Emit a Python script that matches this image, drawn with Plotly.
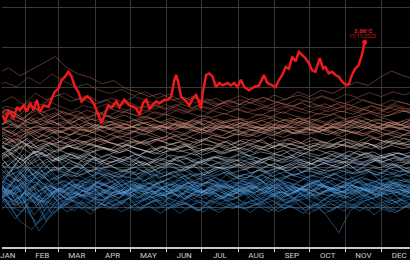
import plotly.graph_objects as go
from plotly.colors import sample_colorscale

# ---------------- data ----------------
month_labels = ["JAN", "FEB", "MAR", "APR", "MAY", "JUN", "JUL", "AUG", "SEP", "OCT", "NOV", "DEC"]
month_mid_days = [15.5, 45, 74.5, 105, 135.5, 166, 196.5, 227.5, 258, 288.5, 319, 349.5]
month_start_days = [31, 59, 90, 120, 151, 181, 212, 243, 273, 304, 334]

years = list(range(1940, 2023))
sample_days = [0, 10, 20, 30, 40, 50, 60, 70, 80, 90, 100, 110, 120, 130, 140, 150, 160, 170,
               180, 190, 200, 210, 220, 230, 240, 250, 260, 270, 280, 290, 300, 310, 320, 330,
               340, 350, 360]
# day on which each year's readings start (readings every 10 days from there)
sample_offsets = [0,5,2,8,3,7,1,6,4,9, 2,7,0,5,8,3,6,1,9,4, 7,2,5,0,8,3,9,6,1,4,
                  5,8,2,7,0,3,6,9,1,4, 8,2,5,0,7,3,9,6,1,4, 2,7,0,5,8,3,6,1,9,4,
                  7,2,5,0,8,3,9,6,1,4, 5,8,2,7,0,3,6,9,1,4, 3,6,0]

background_series = [
    [0.30,0.18,0.35,0.10,0.05,0.22,0.02,0.15,0.28,0.20, 0.12,0.25,0.31,0.19,0.24,0.14,0.29,0.21,0.17,0.26, 0.33,0.22,0.15,0.27,0.20,0.30,0.18,0.13,0.24,0.29, 0.21,0.34,0.25,0.16,0.28,0.31,0.20],
    [0.22,0.38,0.45,0.30,0.52,0.36,0.25,0.40,0.33,0.28, 0.37,0.24,0.31,0.42,0.35,0.27,0.39,0.30,0.44,0.34, 0.26,0.32,0.41,0.29,0.36,0.23,0.33,0.40,0.28,0.35, 0.42,0.31,0.25,0.38,0.44,0.33,0.27],
    [0.35,0.24,0.10,0.18,0.02,0.15,0.28,0.20,0.12,0.25, 0.30,0.16,0.22,0.11,0.26,0.19,0.14,0.27,0.21,0.09, 0.18,0.25,0.31,0.17,0.13,0.24,0.20,0.28,0.15,0.22, 0.12,0.26,0.19,0.30,0.23,0.14,0.21],
    [0.08,0.20,0.30,0.05,-0.15,-0.05,0.14,0.22,0.10,0.02, 0.15,0.19,0.08,0.13,0.04,0.17,0.11,0.21,0.06,0.14, 0.09,0.18,0.03,0.12,0.20,0.10,0.15,0.01,0.13,0.19, 0.07,0.16,0.22,0.11,0.05,0.18,0.13],
    [0.28,0.20,0.40,0.48,0.33,0.42,0.25,0.35,0.30,0.44, 0.38,0.27,0.33,0.41,0.29,0.36,0.43,0.31,0.26,0.38, 0.45,0.34,0.28,0.40,0.32,0.37,0.47,0.35,0.29,0.42, 0.36,0.30,0.44,0.39,0.33,0.46,0.38],
    [0.34,0.15,0.20,0.38,0.25,0.12,0.30,0.22,0.17,0.28, 0.35,0.19,0.23,0.31,0.16,0.26,0.33,0.21,0.14,0.27, 0.24,0.32,0.18,0.29,0.22,0.13,0.26,0.34,0.20,0.25, 0.30,0.17,0.23,0.36,0.27,0.19,0.28],
    [0.00,0.12,0.22,-0.05,-0.20,0.08,-0.02,0.14,0.04,0.10, -0.03,0.07,0.13,0.01,0.09,-0.04,0.06,0.15,0.03,-0.01, 0.08,0.12,0.00,0.05,0.14,-0.02,0.07,0.11,0.02,-0.06, 0.04,0.10,0.16,0.06,-0.03,0.09,0.03],
    [0.20,0.05,0.28,0.15,0.00,0.22,0.10,0.04,0.18,0.13, 0.07,0.16,0.21,0.09,0.14,0.19,0.05,0.12,0.23,0.10, 0.15,0.06,0.18,0.24,0.11,0.08,0.17,0.13,0.03,0.16, 0.21,0.09,0.14,0.19,0.06,0.12,0.17],
    [0.05,0.18,0.25,-0.08,0.08,0.20,0.03,0.15,0.09,0.02, 0.14,0.19,0.06,0.11,0.00,0.13,0.17,0.08,0.04,0.15, 0.10,0.21,0.07,0.12,0.16,0.05,0.09,0.18,0.11,0.02, 0.13,0.07,0.19,0.10,0.04,0.14,0.08],
    [0.15,-0.02,0.08,-0.22,-0.10,0.12,0.00,0.06,-0.04,0.09, 0.03,0.11,-0.02,0.07,0.13,0.01,0.05,-0.05,0.08,0.12, 0.02,-0.03,0.06,0.10,0.00,0.09,-0.04,0.04,0.11,0.03, -0.01,0.07,0.13,0.02,0.08,-0.03,0.05],
    [-0.08,0.06,-0.15,0.02,-0.30,-0.12,0.04,-0.05,0.08,-0.02, 0.05,-0.06,0.01,0.09,-0.03,0.04,-0.08,0.02,0.07,-0.04, 0.00,0.06,-0.07,0.03,0.08,-0.02,0.05,-0.09,0.01,0.04, -0.05,0.03,0.09,-0.01,-0.06,0.05,0.02],
    [0.06,0.20,0.12,0.26,0.02,0.18,0.10,0.22,0.15,0.08, 0.19,0.13,0.24,0.11,0.17,0.07,0.20,0.14,0.25,0.12, 0.16,0.22,0.09,0.18,0.13,0.26,0.15,0.10,0.21,0.17, 0.23,0.12,0.19,0.27,0.14,0.20,0.16],
    [0.28,0.12,0.20,0.32,0.10,0.05,0.24,0.15,0.21,0.11, 0.18,0.26,0.13,0.20,0.16,0.09,0.22,0.27,0.14,0.19, 0.12,0.23,0.17,0.08,0.21,0.15,0.25,0.11,0.18,0.22, 0.13,0.19,0.26,0.16,0.10,0.21,0.15],
    [0.18,0.35,0.22,0.42,0.30,0.16,0.28,0.34,0.21,0.27, 0.32,0.19,0.25,0.36,0.23,0.29,0.17,0.31,0.26,0.20, 0.33,0.24,0.28,0.18,0.35,0.27,0.22,0.30,0.25,0.19, 0.29,0.36,0.23,0.27,0.32,0.21,0.28],
    [0.14,0.00,-0.06,0.18,-0.18,0.04,0.12,-0.03,0.08,0.02, 0.10,-0.02,0.06,0.13,0.01,0.07,-0.04,0.09,0.04,0.11, -0.01,0.05,0.10,0.00,0.07,0.12,0.03,-0.05,0.06,0.09, 0.02,0.08,-0.02,0.05,0.11,0.04,0.00],
    [-0.05,0.10,-0.12,0.04,0.15,-0.08,0.02,0.09,-0.03,0.06, 0.00,0.08,-0.04,0.03,0.10,-0.02,0.05,0.01,-0.06,0.07, 0.03,-0.01,0.08,0.02,-0.05,0.06,0.10,0.00,0.04,-0.03, 0.07,0.01,-0.04,0.05,0.09,0.00,0.03],
    [-0.10,0.05,-0.18,-0.28,-0.12,0.06,-0.06,0.02,-0.09,0.04, -0.03,0.07,-0.05,0.01,-0.08,0.03,0.06,-0.04,0.00,-0.07, 0.05,-0.02,0.02,0.07,-0.06,0.01,-0.03,0.04,-0.08,0.00, 0.03,-0.05,0.06,-0.01,-0.07,0.02,-0.03],
    [0.02,0.15,0.08,0.20,0.12,0.24,0.10,0.18,0.14,0.22, 0.16,0.11,0.23,0.19,0.27,0.15,0.21,0.26,0.18,0.24, 0.29,0.20,0.25,0.31,0.22,0.27,0.19,0.30,0.26,0.33, 0.24,0.29,0.35,0.27,0.32,0.25,0.30],
    [0.42,0.30,0.50,0.38,0.24,0.36,0.20,0.33,0.28,0.38, 0.25,0.32,0.36,0.27,0.22,0.34,0.30,0.26,0.35,0.24, 0.31,0.28,0.37,0.23,0.33,0.29,0.25,0.34,0.21,0.30, 0.36,0.27,0.32,0.24,0.29,0.35,0.26],
    [0.14,0.30,0.20,0.36,0.16,0.27,0.12,0.24,0.29,0.18, 0.23,0.15,0.28,0.21,0.26,0.17,0.30,0.22,0.19,0.27, 0.24,0.16,0.25,0.20,0.29,0.18,0.23,0.14,0.26,0.21, 0.28,0.19,0.24,0.17,0.27,0.22,0.20],
    [0.25,0.10,0.04,0.26,-0.05,0.12,0.22,0.15,0.08,0.20, 0.17,0.24,0.11,0.19,0.14,0.23,0.09,0.18,0.21,0.13, 0.16,0.25,0.12,0.20,0.08,0.17,0.22,0.14,0.19,0.11, 0.23,0.16,0.10,0.21,0.18,0.13,0.20],
    [0.18,0.32,0.24,0.40,0.28,0.20,0.33,0.26,0.19,0.30, 0.24,0.35,0.22,0.28,0.17,0.31,0.25,0.21,0.29,0.33, 0.23,0.27,0.19,0.32,0.26,0.22,0.30,0.18,0.28,0.24, 0.31,0.20,0.27,0.34,0.23,0.29,0.25],
    [0.30,0.14,0.34,0.20,0.10,0.26,0.17,0.29,0.21,0.15, 0.24,0.19,0.27,0.12,0.23,0.28,0.16,0.22,0.18,0.25, 0.13,0.21,0.26,0.17,0.24,0.14,0.20,0.27,0.19,0.23, 0.16,0.25,0.18,0.22,0.28,0.17,0.21],
    [0.10,0.28,0.16,0.35,0.30,0.14,0.22,0.31,0.19,0.26, 0.20,0.29,0.17,0.25,0.32,0.21,0.27,0.23,0.34,0.26, 0.30,0.22,0.28,0.35,0.24,0.31,0.19,0.27,0.33,0.22, 0.26,0.18,0.29,0.24,0.20,0.27,0.23],
    [0.18,0.02,0.12,-0.10,0.08,-0.02,0.10,0.04,-0.04,0.07, 0.01,0.11,-0.03,0.06,0.09,0.00,0.05,-0.05,0.08,0.02, -0.02,0.06,0.03,-0.06,0.04,0.00,-0.08,0.05,-0.12,-0.32, -0.04,0.05,-0.10,0.02,-0.06,0.03,-0.02],
    [-0.05,0.10,0.02,0.18,0.06,0.14,0.00,0.11,0.17,0.08, 0.13,0.04,0.16,0.09,0.20,0.11,0.06,0.15,0.10,0.18, 0.07,0.13,0.19,0.09,0.14,0.05,0.12,0.17,0.08,0.15, 0.11,0.20,0.09,0.14,0.18,0.07,0.12],
    [0.14,0.28,0.18,0.06,0.30,0.20,0.25,0.12,0.27,0.21, 0.17,0.29,0.23,0.15,0.26,0.19,0.31,0.22,0.16,0.28, 0.24,0.18,0.30,0.21,0.13,0.26,0.20,0.29,0.23,0.17, 0.27,0.22,0.15,0.28,0.19,0.25,0.21],
    [0.30,0.18,0.10,0.34,0.40,0.22,0.15,0.28,0.32,0.20, 0.26,0.17,0.30,0.23,0.33,0.19,0.27,0.22,0.31,0.25, 0.18,0.29,0.24,0.34,0.21,0.28,0.16,0.30,0.26,0.22, 0.32,0.20,0.27,0.23,0.31,0.19,0.26],
    [0.08,0.26,0.02,0.20,0.30,0.14,0.24,0.11,0.22,0.28, 0.16,0.21,0.13,0.27,0.19,0.24,0.12,0.23,0.18,0.29, 0.15,0.22,0.26,0.17,0.25,0.13,0.20,0.28,0.16,0.23, 0.19,0.27,0.14,0.24,0.21,0.17,0.25],
    [0.24,0.38,0.44,0.30,0.46,0.34,0.40,0.28,0.37,0.42, 0.31,0.39,0.35,0.44,0.29,0.36,0.41,0.33,0.38,0.30, 0.43,0.35,0.39,0.32,0.45,0.37,0.31,0.40,0.36,0.42, 0.34,0.39,0.44,0.33,0.38,0.41,0.35],
    [0.40,0.25,0.36,0.20,0.38,0.28,0.33,0.22,0.35,0.29, 0.24,0.34,0.30,0.21,0.32,0.27,0.36,0.25,0.31,0.28, 0.23,0.33,0.29,0.37,0.26,0.31,0.22,0.30,0.34,0.27, 0.24,0.32,0.28,0.21,0.30,0.35,0.26],
    [0.10,0.22,0.05,0.16,0.26,0.08,0.19,0.14,0.24,0.11, 0.20,0.16,0.25,0.12,0.18,0.22,0.13,0.21,0.17,0.10, 0.19,0.24,0.15,0.20,0.11,0.18,0.23,0.14,0.21,0.16, 0.12,0.20,0.24,0.15,0.19,0.13,0.18],
    [0.12,0.24,0.16,0.30,0.20,0.27,0.18,0.29,0.23,0.31, 0.25,0.33,0.22,0.30,0.28,0.35,0.26,0.32,0.29,0.37, 0.31,0.36,0.33,0.40,0.34,0.38,0.42,0.36,0.44,0.39, 0.45,0.41,0.47,0.43,0.40,0.46,0.42],
    [0.52,0.58,0.45,0.62,0.40,0.50,0.44,0.55,0.39,0.48, 0.43,0.36,0.47,0.41,0.38,0.45,0.34,0.42,0.39,0.46, 0.35,0.41,0.37,0.44,0.32,0.40,0.36,0.30,0.38,0.34, 0.29,0.37,0.33,0.28,0.35,0.31,0.27],
    [0.12,0.25,0.06,0.18,0.02,0.16,0.24,0.10,0.21,0.15, 0.19,0.11,0.23,0.16,0.20,0.13,0.25,0.18,0.14,0.22, 0.17,0.12,0.21,0.26,0.15,0.19,0.11,0.23,0.18,0.14, 0.20,0.16,0.24,0.13,0.19,0.22,0.17],
    [0.30,0.18,0.36,0.14,0.32,0.24,0.19,0.28,0.21,0.33, 0.25,0.17,0.29,0.22,0.30,0.18,0.26,0.31,0.20,0.27, 0.23,0.16,0.28,0.21,0.33,0.19,0.25,0.17,0.29,0.22, 0.18,0.26,0.20,0.15,0.24,0.21,0.17],
    [0.10,0.22,0.00,0.14,0.06,0.20,0.09,0.17,0.12,0.08, 0.15,0.19,0.11,0.21,0.14,0.18,0.10,0.20,0.16,0.23, 0.15,0.21,0.18,0.25,0.19,0.16,0.23,0.20,0.26,0.22, 0.28,0.24,0.20,0.27,0.30,0.25,0.29],
    [0.34,0.46,0.52,0.38,0.50,0.36,0.44,0.40,0.48,0.42, 0.37,0.45,0.41,0.49,0.39,0.43,0.47,0.38,0.44,0.50, 0.41,0.36,0.46,0.42,0.48,0.39,0.45,0.43,0.37,0.46, 0.42,0.49,0.40,0.45,0.38,0.44,0.41],
    [0.46,0.30,0.52,0.36,0.44,0.33,0.41,0.38,0.47,0.35, 0.42,0.37,0.45,0.32,0.40,0.44,0.36,0.41,0.34,0.39, 0.43,0.37,0.42,0.46,0.38,0.44,0.40,0.47,0.41,0.45, 0.49,0.42,0.46,0.40,0.48,0.44,0.47],
    [0.36,0.45,0.32,0.50,0.40,0.47,0.42,0.52,0.44,0.49, 0.41,0.46,0.50,0.43,0.48,0.53,0.45,0.50,0.47,0.55, 0.49,0.52,0.57,0.50,0.54,0.48,0.56,0.53,0.59,0.55, 0.61,0.56,0.58,0.63,0.57,0.60,0.55],
    [0.60,0.66,0.52,0.70,0.50,0.62,0.55,0.48,0.60,0.53, 0.58,0.51,0.63,0.56,0.49,0.59,0.54,0.61,0.52,0.57, 0.50,0.58,0.62,0.53,0.49,0.56,0.60,0.51,0.55,0.58, 0.48,0.54,0.59,0.50,0.53,0.47,0.52],
    [0.70,0.76,0.58,0.80,0.62,0.66,0.55,0.63,0.59,0.54, 0.61,0.57,0.64,0.52,0.60,0.56,0.63,0.58,0.53,0.62, 0.57,0.65,0.60,0.55,0.63,0.59,0.66,0.61,0.57,0.64, 0.60,0.67,0.62,0.58,0.65,0.61,0.63],
    [0.54,0.40,0.32,0.48,0.36,0.50,0.42,0.38,0.46,0.41, 0.37,0.45,0.40,0.48,0.36,0.43,0.47,0.39,0.44,0.50, 0.42,0.46,0.51,0.44,0.49,0.45,0.53,0.48,0.55,0.50, 0.57,0.53,0.60,0.56,0.62,0.58,0.64],
    [0.72,0.78,0.66,0.80,0.64,0.72,0.60,0.68,0.63,0.58, 0.66,0.61,0.56,0.64,0.59,0.67,0.57,0.62,0.55,0.63, 0.60,0.58,0.65,0.54,0.61,0.57,0.63,0.56,0.52,0.59, 0.55,0.61,0.53,0.58,0.51,0.56,0.54],
    [0.58,0.42,0.62,0.40,0.55,0.60,0.46,0.52,0.44,0.56, 0.49,0.45,0.57,0.43,0.51,0.55,0.47,0.53,0.42,0.50, 0.56,0.46,0.52,0.44,0.49,0.54,0.43,0.50,0.45,0.48, 0.53,0.42,0.49,0.46,0.51,0.44,0.48],
    [0.42,0.56,0.36,0.52,0.60,0.45,0.50,0.41,0.55,0.47, 0.52,0.44,0.49,0.56,0.43,0.51,0.46,0.54,0.40,0.50, 0.47,0.53,0.42,0.49,0.55,0.45,0.51,0.48,0.44,0.52, 0.57,0.46,0.53,0.49,0.55,0.47,0.51],
    [0.62,0.48,0.66,0.50,0.60,0.46,0.57,0.52,0.61,0.49, 0.55,0.60,0.51,0.57,0.53,0.62,0.50,0.56,0.59,0.54, 0.60,0.52,0.58,0.63,0.55,0.59,0.53,0.61,0.57,0.64, 0.58,0.66,0.60,0.63,0.68,0.61,0.65],
    [0.58,0.70,0.55,0.66,0.72,0.60,0.67,0.63,0.71,0.62, 0.68,0.73,0.64,0.70,0.66,0.74,0.69,0.65,0.72,0.76, 0.70,0.74,0.68,0.77,0.72,0.79,0.74,0.70,0.78,0.75, 0.81,0.77,0.73,0.80,0.84,0.78,0.82],
    [0.82,0.88,0.76,0.84,0.74,0.80,0.72,0.78,0.70,0.76, 0.73,0.68,0.75,0.71,0.66,0.74,0.69,0.72,0.65,0.70, 0.67,0.73,0.64,0.69,0.66,0.71,0.62,0.68,0.64,0.70, 0.66,0.61,0.68,0.63,0.67,0.60,0.65],
    [0.56,0.50,0.62,0.54,0.66,0.58,0.64,0.60,0.67,0.56, 0.63,0.59,0.66,0.61,0.57,0.65,0.62,0.68,0.58,0.64, 0.61,0.67,0.63,0.59,0.66,0.62,0.69,0.64,0.60,0.67, 0.63,0.70,0.65,0.61,0.68,0.66,0.71],
    [0.70,0.80,0.74,0.86,0.72,0.78,0.82,0.73,0.79,0.75, 0.71,0.80,0.76,0.83,0.72,0.77,0.81,0.74,0.79,0.76, 0.82,0.73,0.78,0.84,0.75,0.80,0.77,0.72,0.81,0.78, 0.83,0.76,0.80,0.74,0.82,0.79,0.77],
    [0.78,0.70,0.82,0.74,0.80,0.68,0.76,0.72,0.79,0.74, 0.70,0.77,0.73,0.68,0.75,0.71,0.78,0.69,0.74,0.66, 0.72,0.67,0.74,0.70,0.64,0.71,0.66,0.73,0.68,0.63, 0.70,0.65,0.69,0.62,0.67,0.64,0.68],
    [0.72,0.66,0.74,0.60,0.70,0.64,0.58,0.66,0.56,0.62, 0.54,0.59,0.52,0.57,0.50,0.55,0.53,0.49,0.56,0.51, 0.48,0.54,0.50,0.57,0.52,0.47,0.55,0.51,0.58,0.53, 0.49,0.56,0.52,0.59,0.54,0.51,0.57],
    [0.55,0.64,0.50,0.62,0.68,0.57,0.61,0.54,0.65,0.59, 0.56,0.63,0.58,0.52,0.61,0.57,0.64,0.55,0.60,0.62, 0.56,0.59,0.53,0.61,0.57,0.63,0.58,0.54,0.62,0.59, 0.55,0.60,0.64,0.57,0.61,0.56,0.60],
    [0.62,0.68,0.58,0.70,0.64,0.72,0.66,0.61,0.69,0.73, 0.67,0.71,0.65,0.74,0.68,0.72,0.76,0.70,0.74,0.69, 0.75,0.71,0.77,0.73,0.78,0.72,0.76,0.80,0.74,0.79, 0.75,0.81,0.77,0.83,0.78,0.82,0.79],
    [0.78,0.86,0.80,0.92,0.82,0.88,0.79,0.84,0.81,0.87, 0.80,0.76,0.83,0.79,0.85,0.78,0.82,0.77,0.84,0.80, 0.76,0.83,0.79,0.74,0.81,0.77,0.82,0.75,0.79,0.73, 0.78,0.74,0.80,0.72,0.77,0.73,0.76],
    [0.70,0.64,0.76,0.66,0.74,0.69,0.77,0.72,0.68,0.75, 0.71,0.78,0.73,0.69,0.76,0.72,0.79,0.74,0.70,0.77, 0.73,0.80,0.75,0.71,0.78,0.74,0.70,0.77,0.73,0.79, 0.75,0.72,0.78,0.74,0.80,0.76,0.73],
    [0.68,0.74,0.70,0.78,0.72,0.80,0.74,0.77,0.82,0.76, 0.81,0.78,0.85,0.80,0.84,0.88,0.83,0.87,0.82,0.90, 0.86,0.91,0.88,0.94,0.89,0.96,0.92,0.98,0.94,1.00, 0.96,1.03,0.98,1.05,1.01,0.97,1.04],
    [1.12,1.20,1.10,1.24,1.08,1.16,1.04,1.12,1.00,1.08, 1.03,0.98,1.06,1.01,0.96,1.04,0.99,1.05,0.95,1.02, 0.97,0.93,1.00,0.95,1.01,0.92,0.98,0.94,0.90,0.97, 0.93,0.89,0.96,0.91,0.87,0.94,0.90],
    [0.90,0.78,0.86,0.74,0.84,0.79,0.76,0.83,0.78,0.85, 0.80,0.75,0.82,0.77,0.84,0.79,0.74,0.81,0.86,0.78, 0.83,0.77,0.85,0.80,0.76,0.84,0.79,0.87,0.82,0.78, 0.85,0.81,0.88,0.83,0.79,0.86,0.82],
    [0.76,0.86,0.72,0.84,0.90,0.80,0.87,0.78,0.85,0.81, 0.88,0.83,0.79,0.86,0.82,0.89,0.84,0.80,0.87,0.83, 0.78,0.85,0.81,0.88,0.82,0.86,0.79,0.84,0.80,0.87, 0.83,0.78,0.86,0.82,0.88,0.84,0.80],
    [0.84,0.90,0.82,0.94,0.88,0.96,0.86,0.92,0.89,0.97, 0.91,0.87,0.95,0.90,0.98,0.93,0.88,0.96,0.92,0.99, 0.94,0.90,0.97,0.93,1.00,0.95,0.91,0.98,0.94,1.01, 0.96,0.92,0.99,0.95,1.02,0.97,0.94],
    [0.96,1.08,1.00,1.12,1.02,1.06,0.98,1.03,0.95,1.01, 0.97,1.04,0.99,0.94,1.02,0.97,1.05,1.00,0.95,1.03, 0.98,1.06,1.01,0.96,1.04,0.99,1.07,1.02,0.97,1.05, 1.00,1.08,1.03,0.98,1.06,1.01,0.99],
    [1.06,0.96,1.04,0.94,1.02,0.97,0.93,1.00,0.95,1.03, 0.98,0.94,1.01,0.96,1.04,0.99,1.05,1.00,0.96,1.03, 0.98,1.06,1.01,0.97,1.04,1.00,1.07,1.02,0.98,1.05, 1.01,1.08,1.03,0.99,1.06,1.02,1.09],
    [1.00,0.92,1.04,0.95,0.88,0.96,0.90,0.98,0.93,0.87, 0.94,0.90,0.97,0.92,0.86,0.95,0.91,0.98,0.93,0.89, 0.96,0.92,0.88,0.95,0.91,0.97,0.93,0.99,0.95,0.91, 0.98,1.02,0.96,1.00,1.04,0.98,1.01],
    [0.98,1.06,1.00,1.10,1.03,1.08,1.01,1.12,1.05,1.00, 1.07,1.02,1.09,1.04,0.99,1.06,1.01,1.08,1.03,1.10, 1.05,1.00,1.07,1.02,1.09,1.04,1.11,1.06,1.01,1.08, 1.03,1.10,1.05,1.00,1.07,1.02,1.06],
    [0.94,0.88,0.98,0.92,1.00,0.95,0.90,0.97,0.93,1.00, 0.96,0.92,0.99,0.94,1.01,0.97,1.03,0.98,0.94,1.02, 0.98,1.04,1.00,0.96,1.03,0.99,1.06,1.02,0.98,1.05, 1.08,1.03,1.10,1.06,1.02,1.09,1.05],
    [1.14,1.22,1.10,1.04,1.08,1.02,1.06,0.99,1.05,1.00, 1.04,0.98,1.03,0.97,1.02,0.96,1.01,0.95,1.00,0.97, 0.94,0.99,0.95,1.00,0.93,0.98,0.94,0.92,0.97,0.93, 0.96,0.91,0.95,0.90,0.94,0.89,0.93],
    [0.80,0.76,0.86,0.78,0.84,0.80,0.88,0.83,0.90,0.85, 0.82,0.89,0.86,0.92,0.87,0.84,0.91,0.88,0.94,0.89, 0.86,0.93,0.90,0.96,0.91,0.87,0.94,0.90,0.97,0.92, 0.88,0.95,0.91,0.86,0.93,0.89,0.94],
    [0.90,0.96,0.88,0.94,0.98,0.92,0.97,1.00,0.94,0.99, 1.03,0.97,1.02,1.06,1.00,1.05,0.99,1.04,1.08,1.02, 1.07,1.10,1.04,1.09,1.13,1.07,1.11,1.06,1.12,1.16, 1.10,1.14,1.18,1.12,1.16,1.20,1.14],
    [1.16,1.22,1.14,1.28,1.18,1.24,1.15,1.20,1.12,1.18, 1.10,1.15,1.08,1.13,1.06,1.11,1.04,1.09,1.02,1.07, 1.00,1.05,0.99,1.03,0.97,1.02,0.96,1.01,0.95,1.00, 1.04,0.98,1.03,0.97,0.94,1.01,0.96],
    [0.90,0.96,0.86,0.94,1.00,0.92,0.97,0.91,0.99,0.95, 1.01,0.96,0.93,1.00,0.97,1.03,0.98,0.94,1.02,0.99, 1.04,0.99,0.95,1.02,0.98,1.05,1.00,0.96,1.03,0.99, 1.06,1.01,0.97,1.04,1.00,0.95,1.02],
    [0.92,0.98,0.90,0.97,1.01,0.95,1.00,0.96,1.03,0.98, 1.02,1.06,1.00,1.05,1.08,1.02,1.07,1.03,1.09,1.04, 1.06,1.10,1.05,1.08,1.03,1.09,1.05,1.11,1.06,1.02, 1.08,1.04,1.10,1.05,1.01,1.07,1.03],
    [1.02,1.08,1.00,1.06,1.12,1.04,1.09,1.03,1.10,1.05, 1.08,1.02,1.07,1.11,1.05,1.09,1.03,1.08,1.12,1.06, 1.10,1.04,1.09,1.13,1.07,1.11,1.05,1.10,1.06,1.12, 1.08,1.13,1.07,1.11,1.05,1.10,1.08],
    [1.08,1.02,1.10,1.04,1.12,1.06,1.11,1.05,1.13,1.08, 1.14,1.09,1.06,1.13,1.10,1.16,1.11,1.07,1.14,1.12, 1.17,1.12,1.09,1.16,1.13,1.19,1.14,1.10,1.17,1.15, 1.20,1.16,1.22,1.17,1.14,1.21,1.18],
    [1.10,1.18,1.06,1.16,1.22,1.12,1.19,1.14,1.21,1.16, 1.23,1.18,1.25,1.20,1.27,1.22,1.29,1.24,1.31,1.26, 1.33,1.28,1.36,1.31,1.40,1.34,1.44,1.38,1.46,1.42, 1.50,1.56,1.52,1.62,1.70,1.64,1.60],
    [1.66,1.74,1.64,1.72,1.80,1.88,1.74,1.66,1.62,1.54, 1.58,1.48,1.44,1.38,1.42,1.34,1.37,1.30,1.35,1.28, 1.33,1.27,1.32,1.26,1.31,1.25,1.30,1.24,1.29,1.23, 1.28,1.22,1.27,1.21,1.26,1.20,1.24],
    [1.30,1.38,1.28,1.42,1.34,1.40,1.32,1.36,1.28,1.34, 1.26,1.31,1.24,1.29,1.22,1.28,1.21,1.27,1.23,1.30, 1.25,1.32,1.27,1.23,1.30,1.26,1.33,1.28,1.24,1.31, 1.27,1.34,1.29,1.25,1.32,1.28,1.26],
    [1.10,1.04,1.14,1.08,1.18,1.12,1.20,1.14,1.10,1.17, 1.13,1.21,1.16,1.12,1.19,1.15,1.22,1.17,1.13,1.20, 1.16,1.23,1.18,1.14,1.21,1.17,1.25,1.20,1.16,1.23, 1.19,1.26,1.21,1.17,1.24,1.20,1.18],
    [1.18,1.26,1.22,1.32,1.28,1.38,1.42,1.34,1.40,1.30, 1.36,1.31,1.38,1.33,1.28,1.35,1.30,1.37,1.32,1.28, 1.34,1.39,1.33,1.37,1.31,1.36,1.40,1.35,1.39,1.34, 1.41,1.37,1.43,1.38,1.44,1.40,1.46],
    [1.48,1.56,1.50,1.62,1.54,1.66,1.58,1.50,1.54,1.46, 1.42,1.47,1.39,1.44,1.36,1.41,1.33,1.38,1.31,1.36, 1.29,1.34,1.30,1.37,1.32,1.28,1.35,1.31,1.38,1.33, 1.29,1.36,1.31,1.27,1.34,1.30,1.26],
    [1.22,1.16,1.10,1.04,1.12,1.18,1.08,1.14,1.09,1.16, 1.12,1.19,1.14,1.20,1.15,1.22,1.17,1.23,1.18,1.24, 1.19,1.25,1.20,1.26,1.21,1.27,1.22,1.28,1.23,1.29, 1.24,1.20,1.26,1.22,1.28,1.23,1.25],
    [1.16,1.24,1.18,1.28,1.22,1.32,1.26,1.20,1.27,1.23, 1.29,1.24,1.20,1.26,1.22,1.28,1.23,1.19,1.25,1.21, 1.27,1.22,1.18,1.24,1.20,1.26,1.21,1.17,1.23,1.19, 1.25,1.20,1.16,1.22,1.18,1.24,1.21],
]

# 2023 (highlighted)
red_days = [11, 13.4, 16.3, 20.6, 23.4, 25.9, 29, 31.8, 34.7, 37.5, 40.3, 42.9, 46, 50.3, 53.1,
            55.6, 58.8, 61.6, 64.4, 67.2, 70, 72.9, 75.7, 78.5, 82.8, 85.6, 88.5, 91.3, 95.5,
            98.1, 101.2, 104, 108.2, 110.8, 115, 119.3, 123.5, 125.2, 128, 130.9, 133.7, 136.5,
            139.4, 142.2, 145, 149.3, 152.1, 154.9, 157.7, 159.2, 161.1, 163.4, 167.7, 170.5,
            173.4, 176.2, 179, 180.4, 181.8, 184.7, 187.5, 190.3, 193.1, 196, 198.8, 203.1,
            205.9, 208.7, 211.6, 214.4, 217.2, 221.4, 225.7, 229.9, 234.1, 237, 241.3, 244.1,
            246.9, 249.8, 252.6, 255.4, 258.2, 261.1, 263.9, 266.7, 269.5, 272.3, 275.2, 278,
            281.7, 284.6, 286.5, 289.3, 292.2, 295, 297.8, 300.7, 303.5, 306.3, 309.2, 312,
            314.8, 317.7, 320]
red_vals = [1.15, 1.07, 1.21, 1.11, 1.25, 1.21, 1.27, 1.19, 1.30, 1.21, 1.34, 1.19, 1.27, 1.25, 1.36,
            1.44, 1.48, 1.59, 1.63, 1.69, 1.63, 1.50, 1.44, 1.32, 1.38, 1.36, 1.30, 1.21, 1.05,
            1.15, 1.27, 1.24, 1.32, 1.25, 1.34, 1.27, 1.25, 1.23, 1.15, 1.30, 1.34, 1.23,
            1.27, 1.32, 1.30, 1.34, 1.34, 1.38, 1.59, 1.65, 1.55, 1.38, 1.32, 1.27,
            1.36, 1.40, 1.30, 1.23, 1.42, 1.65, 1.67, 1.63, 1.50, 1.55, 1.52, 1.55,
            1.52, 1.55, 1.50, 1.59, 1.50, 1.46, 1.50, 1.52, 1.65, 1.55, 1.52, 1.50,
            1.59, 1.65, 1.75, 1.73, 1.88, 1.82, 1.94, 1.90, 1.86, 1.80, 1.71, 1.69,
            1.86, 1.73, 1.75, 1.67, 1.69, 1.65, 1.63, 1.57, 1.53, 1.53, 1.65, 1.73,
            1.77, 1.90, 2.06]
red_date_label = "17/11/2023"

# ---------------- figure ----------------
line_scale = [[0.0, "#2a74b8"], [0.3, "#4a94d4"], [0.5, "#7fb2e0"], [0.58, "#c8d8e8"],
              [0.64, "#e8d8d4"], [0.72, "#e8ab98"], [0.86, "#cf8270"], [1.0, "#a5564a"]]
colors = sample_colorscale(line_scale, [i / (len(years) - 1) for i in range(len(years))])

fig = go.Figure()
for yr, off, vals, col in zip(years, sample_offsets, background_series, colors):
    fig.add_trace(go.Scatter(
        x=[d + off for d in sample_days], y=vals, mode="lines", name=str(yr),
        line=dict(color=col, width=0.75), opacity=0.65, hoverinfo="skip"))

fig.add_trace(go.Scatter(x=red_days, y=red_vals, mode="lines", name="2023",
                         line=dict(color="#f01a1a", width=2.5)))
fig.add_trace(go.Scatter(x=[red_days[-1]], y=[red_vals[-1]], mode="markers",
                         marker=dict(color="#f01a1a", size=5)))

fig.add_annotation(x=red_days[-1], y=red_vals[-1], text=f"<b>{red_vals[-1]:.2f}°C</b>",
                   showarrow=False, xshift=-2, yshift=12,
                   font=dict(family="Roboto, Arial, sans-serif", size=6, color="#e8201e"))
fig.add_annotation(x=red_days[-1], y=red_vals[-1], text=red_date_label,
                   showarrow=False, xshift=-2, yshift=6,
                   font=dict(family="Roboto, Arial, sans-serif", size=5, color="#d81c1c"))

fig.update_layout(
    width=410, height=260,
    margin=dict(l=0, r=0, t=0, b=13),
    paper_bgcolor="#000000", plot_bgcolor="#000000",
    showlegend=False,
    xaxis=dict(
        range=[10.6, 358.7],
        tickmode="array", tickvals=month_mid_days, ticktext=month_labels,
        ticks="", showgrid=False, zeroline=False, ticklabeloverflow="allow",
        showline=True, linecolor="#c8c8c8", linewidth=1.5,
        tickfont=dict(family="Roboto, Arial, sans-serif", size=8, color="#cfcfcf"),
        minor=dict(tickmode="array", tickvals=month_start_days, ticks="outside",
                   ticklen=3, tickcolor="#e6e6e6", tickwidth=1.2,
                   showgrid=True, gridcolor="#383838", gridwidth=1),
        fixedrange=True,
    ),
    yaxis=dict(
        range=[-0.5, 2.5875],
        tickmode="array", tickvals=[-0.5, 0, 0.5, 1, 1.5, 2, 2.5],
        showticklabels=False, ticks="", showgrid=True, gridcolor="#383838", gridwidth=1,
        zeroline=False, showline=False, fixedrange=True,
    ),
)

fig.write_html("out.html")
